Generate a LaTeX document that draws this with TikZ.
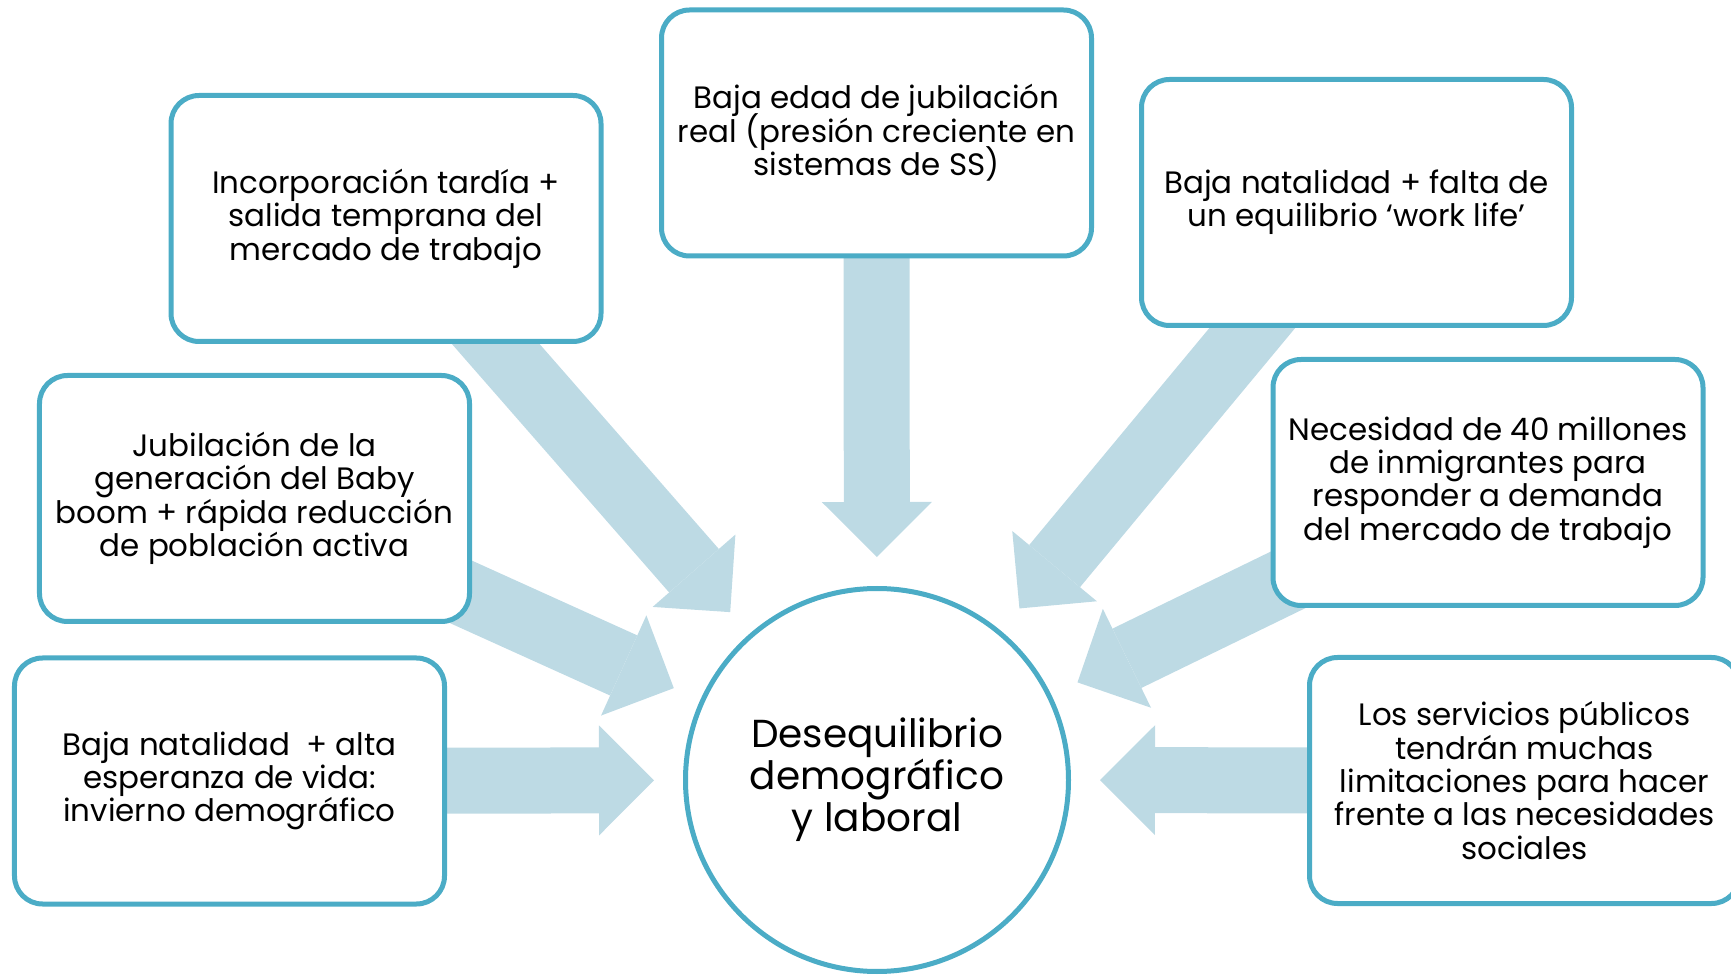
\documentclass[tikz,border=0pt]{standalone}
\usepackage{fontspec}
\setmainfont{Poppins}
\usetikzlibrary{arrows.meta}
\usetikzlibrary{backgrounds}

\definecolor{borde}{RGB}{75,172,198}
\definecolor{celeste}{RGB}{189,218,228}
\newcommand{\letracaja}{\fontsize{8.8pt}{9.5pt}\selectfont\lineskiplimit=-5pt\relax}
\newcommand{\letracentro}{\fontsize{11.1pt}{11.9pt}\selectfont\lineskiplimit=-5pt\relax}

\begin{document}
\begin{tikzpicture}[
    font=\letracaja
]
\tikzset{
    causa/.style = {rectangle, rounded corners=0.28cm, draw=borde, line width=0.05cm, fill=white, align=center, minimum width=4.30cm, minimum height=2.46cm, inner sep=0pt},
    centro/.style = {circle, draw=borde, line width=0.05cm, fill=white, align=center, minimum size=3.83cm, inner sep=0pt, font=\letracentro},
    flecha/.style = {line width=0.66cm, draw=celeste, shorten >=2.23cm, -{Triangle[width=1.10cm,length=0.55cm,line width=0pt]}}
}
\useasboundingbox (0,0) rectangle (17.31,9.75);
\clip (0,0) rectangle (17.31,9.75);
\node[centro] at (8.77,1.95) (c) {Desequilibrio\\demográfico\\y laboral};
\node[causa] at (3.86,7.565) (ia) {Incorporación tardía +\\salida temprana del\\mercado de trabajo};
\node[causa] at (8.765,8.42) (a) {Baja edad de jubilación\\real (presión creciente en\\sistemas de SS)};
\node[causa] at (13.565,7.725) (da) {Baja natalidad + falta de\\un equilibrio ‘work life’};
\node[causa] at (2.545,4.765) (im) {Jubilación de la\\generación del Baby\\boom + rápida reducción\\de población activa};
\node[causa] at (14.88,4.925) (dm) {Necesidad de 40 millones\\de inmigrantes para\\responder a demanda\\del mercado de trabajo};
\node[causa] at (2.295,1.94) (ib) {Baja natalidad~ + alta\\esperanza de vida:\\invierno demográfico};
\node[causa] at (15.245,1.945) (db) {Los servicios públicos\\tendrán muchas\\limitaciones para hacer\\frente a las necesidades\\sociales};
\begin{scope}[on background layer]
\draw[flecha] (ia.center) -- (c.center);
\draw[flecha] (a.center) -- (c.center);
\draw[flecha] (da.center) -- (c.center);
\draw[flecha] (im.center) -- (c.center);
\draw[flecha] (dm.center) -- (c.center);
\draw[flecha] (ib.center) -- (c.center);
\draw[flecha] (db.center) -- (c.center);
\end{scope}
\end{tikzpicture}
\end{document}
